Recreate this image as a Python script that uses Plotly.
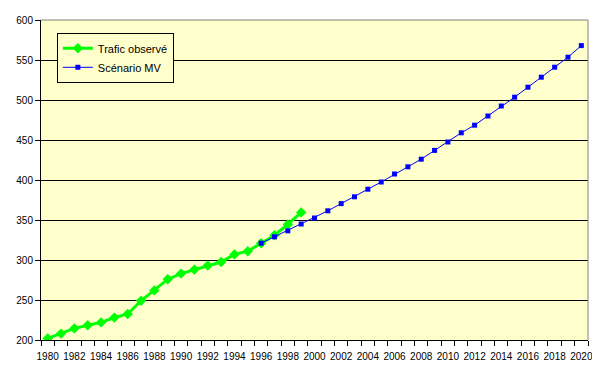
import plotly.graph_objects as go

obs_years = list(range(1980, 2000))
obs_values = [202, 208, 214.5, 218.5, 222, 228, 232.5, 249, 262, 276, 283, 288,
              293, 297.5, 307, 311, 321, 331, 344.5, 359.5]

mv_years = list(range(1996, 2021))
mv_values = [321, 329, 336.5, 345, 352.5, 361.5, 370.5, 379, 388.5, 397.5, 407.5,
             416.5, 426, 437, 447.5, 459, 468.5, 480, 492.5, 503.5, 516, 528.5,
             541, 553.5, 568]

label_years = list(range(1980, 2021, 2))

fig = go.Figure()
fig.add_trace(go.Scatter(
    x=obs_years, y=obs_values, name="Trafic observé", mode="lines+markers",
    line=dict(color="#00FF00", width=3),
    marker=dict(symbol="diamond", size=8, color="#00FF00"),
))
fig.add_trace(go.Scatter(
    x=mv_years, y=mv_values, name="Scénario MV", mode="lines+markers",
    line=dict(color="#0000FF", width=1),
    marker=dict(symbol="square", size=5, color="#0000FF"),
))

font = dict(family="Liberation Sans, Arial, sans-serif", size=10, color="black")

# page body has an 8px default margin: figure is sized/offset to compensate
fig.update_layout(
    template="none",
    width=592, height=370,
    margin=dict(l=33, r=12, t=12, b=38, autoexpand=False),
    paper_bgcolor="white", plot_bgcolor="#FFFFCC",
    font=font,
    showlegend=True,
    legend=dict(
        x=0.029, y=0.96, xanchor="left", yanchor="top",
        bgcolor="#FFFFCC", bordercolor="black", borderwidth=1,
        font=dict(family="Liberation Sans, Arial, sans-serif", size=11, color="black"),
        tracegroupgap=0, itemwidth=30,
    ),
    xaxis=dict(
        range=[1979.5, 2020.5], tickmode="array", tickvals=label_years,
        ticktext=[str(y) for y in label_years], ticks="", showgrid=False,
        showline=True, linecolor="black", linewidth=1, zeroline=False,
        tickfont=font, ticklabelstandoff=7, automargin=False,
        minor=dict(tick0=1979.5, dtick=1, ticks="outside", ticklen=5,
                   tickcolor="black", showgrid=False),
    ),
    yaxis=dict(
        range=[200, 600], dtick=50, ticks="outside", ticklen=5, tickcolor="black",
        showgrid=True, gridcolor="black", gridwidth=1, automargin=False,
        showline=True, linecolor="black", linewidth=1, zeroline=False,
        tickfont=font,
    ),
)

fig.add_shape(type="line", xref="x domain", yref="y domain", x0=0, x1=1, y0=1, y1=1,
              line=dict(color="#808080", width=1), layer="above")
fig.add_shape(type="line", xref="x domain", yref="y domain", x0=1, x1=1, y0=0, y1=1,
              line=dict(color="#808080", width=1), layer="above")

fig.write_html("out.html")
